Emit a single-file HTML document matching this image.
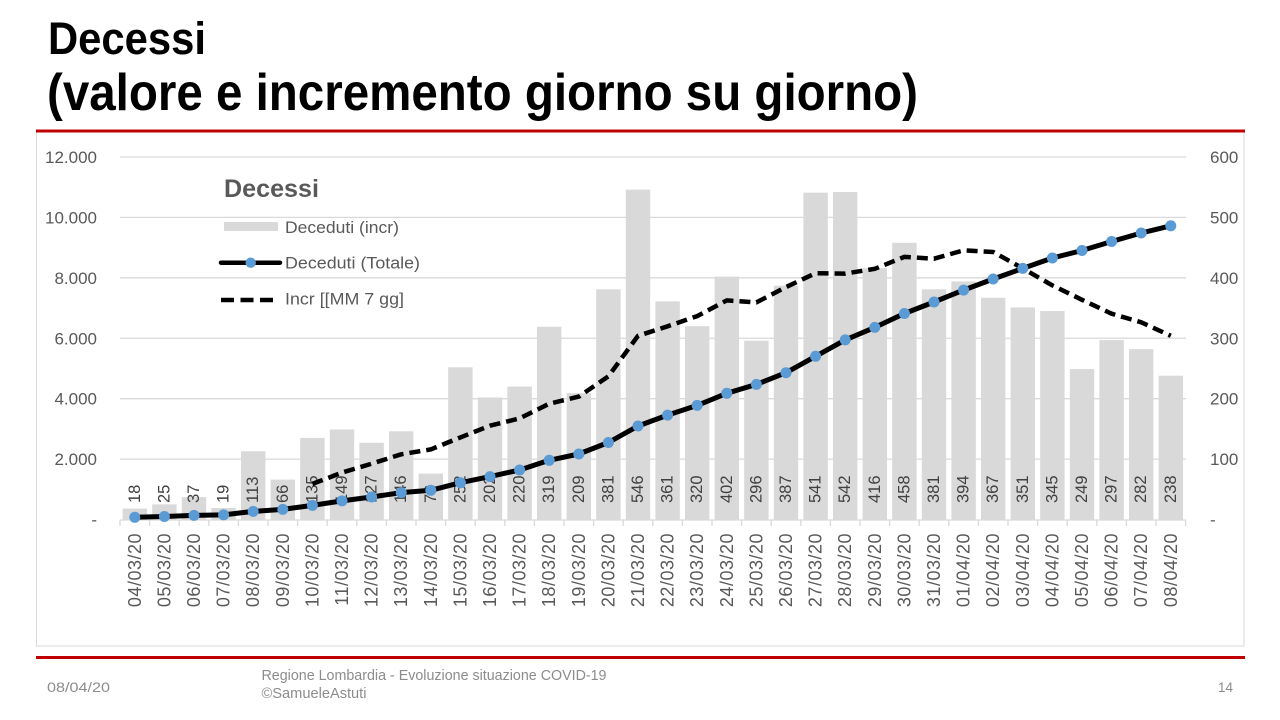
<!DOCTYPE html>
<html><head><meta charset="utf-8"><style>
html,body{margin:0;padding:0;background:#fff;}
svg{display:block;}
text{font-family:"Liberation Sans",Arial,sans-serif;}
</style></head><body>
<svg width="1280" height="720" viewBox="0 0 1280 720" xmlns="http://www.w3.org/2000/svg">
<rect width="1280" height="720" fill="#fff"/>
<!-- Title -->
<text x="48" y="54" font-size="45" font-weight="bold" fill="#000" textLength="158" lengthAdjust="spacingAndGlyphs">Decessi</text>
<text x="47" y="110" font-size="52" font-weight="bold" fill="#000" textLength="871" lengthAdjust="spacingAndGlyphs">(valore e incremento giorno su giorno)</text>
<!-- chart border -->
<rect x="36.5" y="131.5" width="1207.5" height="514.5" fill="#fff" stroke="#d9d9d9" stroke-width="1"/>
<!-- red lines -->
<rect x="36" y="129.5" width="1209" height="3" fill="#c00000"/>
<rect x="36" y="656" width="1209" height="3" fill="#c00000"/>
<!-- gridlines -->
<g stroke="#d9d9d9" stroke-width="1.3">
<line x1="120" y1="157" x2="1186" y2="157"/>
<line x1="120" y1="217.4" x2="1186" y2="217.4"/>
<line x1="120" y1="277.8" x2="1186" y2="277.8"/>
<line x1="120" y1="338.25" x2="1186" y2="338.25"/>
<line x1="120" y1="398.7" x2="1186" y2="398.7"/>
<line x1="120" y1="459.1" x2="1186" y2="459.1"/>
</g>
<!-- left axis labels -->
<g font-size="17" fill="#595959" text-anchor="end">
<text x="97" y="163">12.000</text>
<text x="97" y="223.4">10.000</text>
<text x="97" y="283.8">8.000</text>
<text x="97" y="344.3">6.000</text>
<text x="97" y="404.7">4.000</text>
<text x="97" y="465.1">2.000</text>
<text x="97" y="525.5">-</text>
</g>
<!-- right axis labels -->
<g font-size="17" fill="#595959">
<text x="1210" y="163">600</text>
<text x="1210" y="223.4">500</text>
<text x="1210" y="283.8">400</text>
<text x="1210" y="344.3">300</text>
<text x="1210" y="404.7">200</text>
<text x="1210" y="465.1">100</text>
<text x="1210" y="525.5">-</text>
</g>
<!-- bars -->
<g fill="#d9d9d9" transform="translate(0,519.5) scale(1,-0.604167)">
<rect x="122.6" y="0" width="24.4" height="18"/>
<rect x="152.2" y="0" width="24.4" height="25"/>
<rect x="181.8" y="0" width="24.4" height="37"/>
<rect x="211.4" y="0" width="24.4" height="19"/>
<rect x="241.0" y="0" width="24.4" height="113"/>
<rect x="270.6" y="0" width="24.4" height="66"/>
<rect x="300.2" y="0" width="24.4" height="135"/>
<rect x="329.8" y="0" width="24.4" height="149"/>
<rect x="359.4" y="0" width="24.4" height="127"/>
<rect x="389.0" y="0" width="24.4" height="146"/>
<rect x="418.6" y="0" width="24.4" height="76"/>
<rect x="448.2" y="0" width="24.4" height="252"/>
<rect x="477.8" y="0" width="24.4" height="202"/>
<rect x="507.4" y="0" width="24.4" height="220"/>
<rect x="537.0" y="0" width="24.4" height="319"/>
<rect x="566.6" y="0" width="24.4" height="209"/>
<rect x="596.2" y="0" width="24.4" height="381"/>
<rect x="625.8" y="0" width="24.4" height="546"/>
<rect x="655.4" y="0" width="24.4" height="361"/>
<rect x="685.0" y="0" width="24.4" height="320"/>
<rect x="714.6" y="0" width="24.4" height="402"/>
<rect x="744.2" y="0" width="24.4" height="296"/>
<rect x="773.8" y="0" width="24.4" height="387"/>
<rect x="803.4" y="0" width="24.4" height="541"/>
<rect x="833.0" y="0" width="24.4" height="542"/>
<rect x="862.6" y="0" width="24.4" height="416"/>
<rect x="892.2" y="0" width="24.4" height="458"/>
<rect x="921.8" y="0" width="24.4" height="381"/>
<rect x="951.4" y="0" width="24.4" height="394"/>
<rect x="981.0" y="0" width="24.4" height="367"/>
<rect x="1010.6" y="0" width="24.4" height="351"/>
<rect x="1040.2" y="0" width="24.4" height="345"/>
<rect x="1069.8" y="0" width="24.4" height="249"/>
<rect x="1099.4" y="0" width="24.4" height="297"/>
<rect x="1129.0" y="0" width="24.4" height="282"/>
<rect x="1158.6" y="0" width="24.4" height="238"/>
</g>
<!-- axis line + ticks -->
<line x1="120" y1="520" x2="1186" y2="520" stroke="#d9d9d9" stroke-width="1.3"/>
<g stroke="#d9d9d9" stroke-width="1.3">
<line x1="120" y1="520" x2="120" y2="526"/><line x1="149.6" y1="520" x2="149.6" y2="526"/><line x1="179.2" y1="520" x2="179.2" y2="526"/><line x1="208.8" y1="520" x2="208.8" y2="526"/><line x1="238.4" y1="520" x2="238.4" y2="526"/><line x1="268" y1="520" x2="268" y2="526"/><line x1="297.6" y1="520" x2="297.6" y2="526"/><line x1="327.2" y1="520" x2="327.2" y2="526"/><line x1="356.8" y1="520" x2="356.8" y2="526"/><line x1="386.4" y1="520" x2="386.4" y2="526"/><line x1="416" y1="520" x2="416" y2="526"/><line x1="445.6" y1="520" x2="445.6" y2="526"/><line x1="475.2" y1="520" x2="475.2" y2="526"/><line x1="504.8" y1="520" x2="504.8" y2="526"/><line x1="534.4" y1="520" x2="534.4" y2="526"/><line x1="564" y1="520" x2="564" y2="526"/><line x1="593.6" y1="520" x2="593.6" y2="526"/><line x1="623.2" y1="520" x2="623.2" y2="526"/><line x1="652.8" y1="520" x2="652.8" y2="526"/><line x1="682.4" y1="520" x2="682.4" y2="526"/><line x1="712" y1="520" x2="712" y2="526"/><line x1="741.6" y1="520" x2="741.6" y2="526"/><line x1="771.2" y1="520" x2="771.2" y2="526"/><line x1="800.8" y1="520" x2="800.8" y2="526"/><line x1="830.4" y1="520" x2="830.4" y2="526"/><line x1="860" y1="520" x2="860" y2="526"/><line x1="889.6" y1="520" x2="889.6" y2="526"/><line x1="919.2" y1="520" x2="919.2" y2="526"/><line x1="948.8" y1="520" x2="948.8" y2="526"/><line x1="978.4" y1="520" x2="978.4" y2="526"/><line x1="1008" y1="520" x2="1008" y2="526"/><line x1="1037.6" y1="520" x2="1037.6" y2="526"/><line x1="1067.2" y1="520" x2="1067.2" y2="526"/><line x1="1096.8" y1="520" x2="1096.8" y2="526"/><line x1="1126.4" y1="520" x2="1126.4" y2="526"/><line x1="1156" y1="520" x2="1156" y2="526"/><line x1="1185.6" y1="520" x2="1185.6" y2="526"/>
</g>
<!-- data labels -->
<g font-size="16.5" fill="#404040" dominant-baseline="central">
<text transform="translate(134.8,503) rotate(-90)">18</text>
<text transform="translate(164.4,503) rotate(-90)">25</text>
<text transform="translate(194.0,503) rotate(-90)">37</text>
<text transform="translate(223.6,503) rotate(-90)">19</text>
<text transform="translate(253.2,503) rotate(-90)">113</text>
<text transform="translate(282.8,503) rotate(-90)">66</text>
<text transform="translate(312.4,503) rotate(-90)">135</text>
<text transform="translate(342.0,503) rotate(-90)">149</text>
<text transform="translate(371.6,503) rotate(-90)">127</text>
<text transform="translate(401.2,503) rotate(-90)">146</text>
<text transform="translate(430.8,503) rotate(-90)">76</text>
<text transform="translate(460.4,503) rotate(-90)">252</text>
<text transform="translate(490.0,503) rotate(-90)">202</text>
<text transform="translate(519.6,503) rotate(-90)">220</text>
<text transform="translate(549.2,503) rotate(-90)">319</text>
<text transform="translate(578.8,503) rotate(-90)">209</text>
<text transform="translate(608.4,503) rotate(-90)">381</text>
<text transform="translate(638.0,503) rotate(-90)">546</text>
<text transform="translate(667.6,503) rotate(-90)">361</text>
<text transform="translate(697.2,503) rotate(-90)">320</text>
<text transform="translate(726.8,503) rotate(-90)">402</text>
<text transform="translate(756.4,503) rotate(-90)">296</text>
<text transform="translate(786.0,503) rotate(-90)">387</text>
<text transform="translate(815.6,503) rotate(-90)">541</text>
<text transform="translate(845.2,503) rotate(-90)">542</text>
<text transform="translate(874.8,503) rotate(-90)">416</text>
<text transform="translate(904.4,503) rotate(-90)">458</text>
<text transform="translate(934.0,503) rotate(-90)">381</text>
<text transform="translate(963.6,503) rotate(-90)">394</text>
<text transform="translate(993.2,503) rotate(-90)">367</text>
<text transform="translate(1022.8,503) rotate(-90)">351</text>
<text transform="translate(1052.4,503) rotate(-90)">345</text>
<text transform="translate(1082.0,503) rotate(-90)">249</text>
<text transform="translate(1111.6,503) rotate(-90)">297</text>
<text transform="translate(1141.2,503) rotate(-90)">282</text>
<text transform="translate(1170.8,503) rotate(-90)">238</text>
</g>
<!-- x labels -->
<g font-size="18" fill="#595959" dominant-baseline="central" text-anchor="end" letter-spacing="0.5">
<text transform="translate(134.8,533) rotate(-90)">04/03/20</text>
<text transform="translate(164.4,533) rotate(-90)">05/03/20</text>
<text transform="translate(194.0,533) rotate(-90)">06/03/20</text>
<text transform="translate(223.6,533) rotate(-90)">07/03/20</text>
<text transform="translate(253.2,533) rotate(-90)">08/03/20</text>
<text transform="translate(282.8,533) rotate(-90)">09/03/20</text>
<text transform="translate(312.4,533) rotate(-90)">10/03/20</text>
<text transform="translate(342.0,533) rotate(-90)">11/03/20</text>
<text transform="translate(371.6,533) rotate(-90)">12/03/20</text>
<text transform="translate(401.2,533) rotate(-90)">13/03/20</text>
<text transform="translate(430.8,533) rotate(-90)">14/03/20</text>
<text transform="translate(460.4,533) rotate(-90)">15/03/20</text>
<text transform="translate(490.0,533) rotate(-90)">16/03/20</text>
<text transform="translate(519.6,533) rotate(-90)">17/03/20</text>
<text transform="translate(549.2,533) rotate(-90)">18/03/20</text>
<text transform="translate(578.8,533) rotate(-90)">19/03/20</text>
<text transform="translate(608.4,533) rotate(-90)">20/03/20</text>
<text transform="translate(638.0,533) rotate(-90)">21/03/20</text>
<text transform="translate(667.6,533) rotate(-90)">22/03/20</text>
<text transform="translate(697.2,533) rotate(-90)">23/03/20</text>
<text transform="translate(726.8,533) rotate(-90)">24/03/20</text>
<text transform="translate(756.4,533) rotate(-90)">25/03/20</text>
<text transform="translate(786.0,533) rotate(-90)">26/03/20</text>
<text transform="translate(815.6,533) rotate(-90)">27/03/20</text>
<text transform="translate(845.2,533) rotate(-90)">28/03/20</text>
<text transform="translate(874.8,533) rotate(-90)">29/03/20</text>
<text transform="translate(904.4,533) rotate(-90)">30/03/20</text>
<text transform="translate(934.0,533) rotate(-90)">31/03/20</text>
<text transform="translate(963.6,533) rotate(-90)">01/04/20</text>
<text transform="translate(993.2,533) rotate(-90)">02/04/20</text>
<text transform="translate(1022.8,533) rotate(-90)">03/04/20</text>
<text transform="translate(1052.4,533) rotate(-90)">04/04/20</text>
<text transform="translate(1082.0,533) rotate(-90)">05/04/20</text>
<text transform="translate(1111.6,533) rotate(-90)">06/04/20</text>
<text transform="translate(1141.2,533) rotate(-90)">07/04/20</text>
<text transform="translate(1170.8,533) rotate(-90)">08/04/20</text>
</g>
<!-- MA 7 gg dashed -->
<polyline fill="none" stroke="#000" stroke-width="4.5" stroke-dasharray="11 6" stroke-linejoin="round" points="312.4,483.9 342.0,472.6 371.6,463.7 401.2,454.3 430.8,449.4 460.4,437.4 490.0,425.7 519.6,418.4 549.2,403.7 578.8,396.6 608.4,376.3 638.0,335.8 667.6,326.3 697.2,316.1 726.8,300.4 756.4,302.4 786.0,287.1 815.6,273.2 845.2,273.6 874.8,268.8 904.4,256.9 934.0,258.7 963.6,250.3 993.2,252.0 1022.8,268.4 1052.4,285.4 1082.0,299.8 1111.6,313.7 1141.2,322.3 1170.8,335.8"/>
<!-- total line -->
<polyline fill="none" stroke="#000" stroke-width="5" stroke-linejoin="round" stroke-linecap="round" points="134.8,517.3 164.4,516.5 194.0,515.4 223.6,514.9 253.2,511.4 282.8,509.4 312.4,505.4 342.0,500.9 371.6,497.0 401.2,492.6 430.8,490.3 460.4,482.7 490.0,476.6 519.6,470.0 549.2,460.3 578.8,454.0 608.4,442.5 638.0,426.0 667.6,415.1 697.2,405.4 726.8,393.3 756.4,384.4 786.0,372.7 815.6,356.3 845.2,339.9 874.8,327.4 904.4,313.5 934.0,302.0 963.6,290.1 993.2,279.0 1022.8,268.4 1052.4,258.0 1082.0,250.5 1111.6,241.5 1141.2,233.0 1170.8,225.8"/>
<g fill="#5b9bd5">
<circle cx="134.8" cy="517.3" r="5.5"/><circle cx="164.4" cy="516.5" r="5.5"/><circle cx="194.0" cy="515.4" r="5.5"/><circle cx="223.6" cy="514.9" r="5.5"/><circle cx="253.2" cy="511.4" r="5.5"/><circle cx="282.8" cy="509.4" r="5.5"/><circle cx="312.4" cy="505.4" r="5.5"/><circle cx="342.0" cy="500.9" r="5.5"/><circle cx="371.6" cy="497.0" r="5.5"/><circle cx="401.2" cy="492.6" r="5.5"/><circle cx="430.8" cy="490.3" r="5.5"/><circle cx="460.4" cy="482.7" r="5.5"/><circle cx="490.0" cy="476.6" r="5.5"/><circle cx="519.6" cy="470.0" r="5.5"/><circle cx="549.2" cy="460.3" r="5.5"/><circle cx="578.8" cy="454.0" r="5.5"/><circle cx="608.4" cy="442.5" r="5.5"/><circle cx="638.0" cy="426.0" r="5.5"/><circle cx="667.6" cy="415.1" r="5.5"/><circle cx="697.2" cy="405.4" r="5.5"/><circle cx="726.8" cy="393.3" r="5.5"/><circle cx="756.4" cy="384.4" r="5.5"/><circle cx="786.0" cy="372.7" r="5.5"/><circle cx="815.6" cy="356.3" r="5.5"/><circle cx="845.2" cy="339.9" r="5.5"/><circle cx="874.8" cy="327.4" r="5.5"/><circle cx="904.4" cy="313.5" r="5.5"/><circle cx="934.0" cy="302.0" r="5.5"/><circle cx="963.6" cy="290.1" r="5.5"/><circle cx="993.2" cy="279.0" r="5.5"/><circle cx="1022.8" cy="268.4" r="5.5"/><circle cx="1052.4" cy="258.0" r="5.5"/><circle cx="1082.0" cy="250.5" r="5.5"/><circle cx="1111.6" cy="241.5" r="5.5"/><circle cx="1141.2" cy="233.0" r="5.5"/><circle cx="1170.8" cy="225.8" r="5.5"/>
</g>
<!-- legend -->
<text x="224" y="197" font-size="25" font-weight="bold" fill="#595959" textLength="95" lengthAdjust="spacingAndGlyphs">Decessi</text>
<rect x="224" y="222" width="54" height="9" fill="#d9d9d9"/>
<text x="285" y="233" font-size="17" fill="#595959" textLength="114" lengthAdjust="spacingAndGlyphs">Deceduti (incr)</text>
<line x1="221" y1="262.7" x2="280" y2="262.7" stroke="#000" stroke-width="4.5" stroke-linecap="round"/>
<circle cx="250.7" cy="262.7" r="5.2" fill="#5b9bd5"/>
<text x="285" y="268.5" font-size="17" fill="#595959" textLength="135" lengthAdjust="spacingAndGlyphs">Deceduti (Totale)</text>
<line x1="221" y1="300" x2="273" y2="300" stroke="#000" stroke-width="4.5" stroke-dasharray="13 6.5"/>
<text x="285" y="304.5" font-size="17" fill="#595959" textLength="119" lengthAdjust="spacingAndGlyphs">Incr [[MM 7 gg]</text>
<!-- footer -->
<text x="47" y="692" font-size="14" fill="#8c8c8c" textLength="63" lengthAdjust="spacingAndGlyphs">08/04/20</text>
<text x="261.5" y="680" font-size="14.5" fill="#8c8c8c" textLength="345" lengthAdjust="spacingAndGlyphs">Regione Lombardia - Evoluzione situazione COVID-19</text>
<text x="261.5" y="698" font-size="14.5" fill="#8c8c8c" textLength="105" lengthAdjust="spacingAndGlyphs">©SamueleAstuti</text>
<text x="1218" y="692" font-size="14" fill="#8c8c8c" textLength="15" lengthAdjust="spacingAndGlyphs">14</text>
</svg>
</body></html>
